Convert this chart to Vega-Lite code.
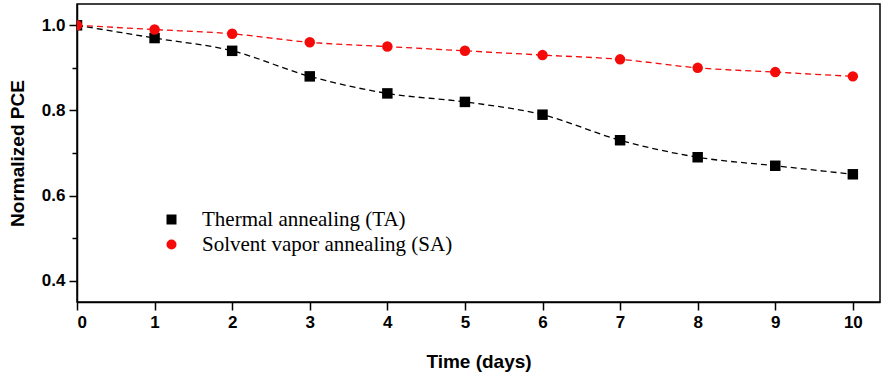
{
  "$schema": "https://vega.github.io/schema/vega-lite/v6.json",
  "autosize": "none",
  "width": 803,
  "height": 298,
  "padding": {"left": 77, "top": 4, "right": 1, "bottom": 75},
  "background": "white",
  "config": {
    "view": {"stroke": "black", "strokeWidth": 1.5},
    "axis": {
      "grid": false,
      "domainColor": "black",
      "domainWidth": 1.5,
      "tickColor": "black",
      "tickWidth": 1.5,
      "tickSize": 8,
      "labelFont": "Liberation Sans",
      "labelFontWeight": "bold",
      "labelFontSize": 17,
      "labelColor": "black",
      "labelPadding": 4,
      "titleFont": "Liberation Sans",
      "titleFontWeight": "bold",
      "titleFontSize": 19,
      "titleColor": "black"
    }
  },
  "data": {
    "values": [
      {"day": 0, "series": "Thermal annealing (TA)", "pce": 1.0},
      {"day": 1, "series": "Thermal annealing (TA)", "pce": 0.97},
      {"day": 2, "series": "Thermal annealing (TA)", "pce": 0.94},
      {"day": 3, "series": "Thermal annealing (TA)", "pce": 0.88},
      {"day": 4, "series": "Thermal annealing (TA)", "pce": 0.84},
      {"day": 5, "series": "Thermal annealing (TA)", "pce": 0.82},
      {"day": 6, "series": "Thermal annealing (TA)", "pce": 0.79},
      {"day": 7, "series": "Thermal annealing (TA)", "pce": 0.73},
      {"day": 8, "series": "Thermal annealing (TA)", "pce": 0.69},
      {"day": 9, "series": "Thermal annealing (TA)", "pce": 0.67},
      {"day": 10, "series": "Thermal annealing (TA)", "pce": 0.65},
      {"day": 0, "series": "Solvent vapor annealing (SA)", "pce": 1.0},
      {"day": 1, "series": "Solvent vapor annealing (SA)", "pce": 0.99},
      {"day": 2, "series": "Solvent vapor annealing (SA)", "pce": 0.98},
      {"day": 3, "series": "Solvent vapor annealing (SA)", "pce": 0.96},
      {"day": 4, "series": "Solvent vapor annealing (SA)", "pce": 0.95},
      {"day": 5, "series": "Solvent vapor annealing (SA)", "pce": 0.94},
      {"day": 6, "series": "Solvent vapor annealing (SA)", "pce": 0.93},
      {"day": 7, "series": "Solvent vapor annealing (SA)", "pce": 0.92},
      {"day": 8, "series": "Solvent vapor annealing (SA)", "pce": 0.90},
      {"day": 9, "series": "Solvent vapor annealing (SA)", "pce": 0.89},
      {"day": 10, "series": "Solvent vapor annealing (SA)", "pce": 0.88}
    ]
  },
  "encoding": {
    "x": {
      "field": "day",
      "type": "quantitative",
      "scale": {"domain": [0, 10.35], "nice": false, "zero": false},
      "axis": {"values": [0,1,2,3,4,5,6,7,8,9,10], "format": "d", "title": "Time (days)", "titlePadding": 22}
    },
    "color": {
      "field": "series",
      "type": "nominal",
      "scale": {"domain": ["Thermal annealing (TA)", "Solvent vapor annealing (SA)"], "range": ["#000000", "#f50a0a"]},
      "legend": {
        "orient": "none",
        "legendX": 84,
        "legendY": 205,
        "padding": 0,
        "title": null,
        "labelFont": "Liberation Serif",
        "labelFontSize": 21,
        "labelColor": "black",
        "labelOffset": 20,
        "labelLimit": 0,
        "symbolSize": 100,
        "symbolStrokeWidth": 0,
        "rowPadding": 3
      }
    }
  },
  "layer": [
    {
      "mark": {"type": "line", "interpolate": "monotone", "strokeDash": [6, 4], "strokeWidth": 1.3},
      "encoding": {
        "y": {
          "field": "pce",
          "type": "quantitative",
          "scale": {"domain": [0.35, 1.05], "nice": false, "zero": false},
          "axis": {"values": [0.4, 0.6, 0.8, 1.0], "format": ".1f", "title": "Normalized PCE", "titlePadding": 14, "orient": "left"}
        }
      }
    },
    {
      "mark": {"type": "point", "filled": true, "opacity": 1, "size": 110, "clip": true},
      "encoding": {
        "y": {"field": "pce", "type": "quantitative", "axis": null},
        "shape": {
          "field": "series",
          "type": "nominal",
          "scale": {"domain": ["Thermal annealing (TA)", "Solvent vapor annealing (SA)"], "range": ["square", "circle"]},
          "legend": null
        }
      }
    },
    {
      "mark": {"type": "point", "opacity": 0},
      "encoding": {
        "color": {"value": "black"},
        "y": {
          "field": "pce",
          "type": "quantitative",
          "axis": {"values": [0.5, 0.7, 0.9], "labels": false, "domain": false, "tickSize": 5, "title": null, "orient": "left", "grid": false}
        }
      }
    }
  ],
  "resolve": {"axis": {"y": "independent"}}
}
